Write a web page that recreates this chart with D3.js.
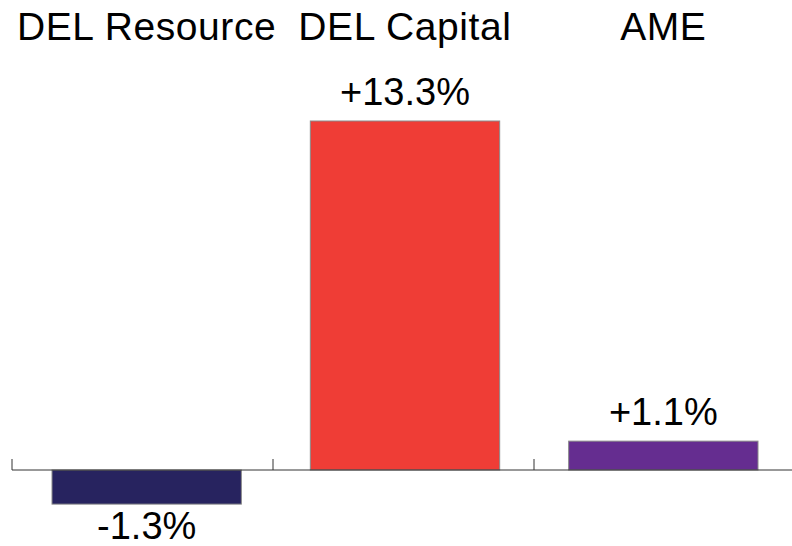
<!DOCTYPE html>
<html>
<head>
<meta charset="utf-8">
<script src="https://cdn.jsdelivr.net/npm/d3@7"></script>
<style>
html,body{margin:0;padding:0;background:#fff;}
svg{display:block;}
text{font-family:"Liberation Sans",Arial,Helvetica,sans-serif;fill:#000;}
</style>
</head>
<body>
<svg id="chart" width="792" height="546"></svg>
<script>
const categories = ["DEL Resource", "DEL Capital", "AME"];
const values = [-1.3, 13.3, 1.1];
const valueLabels = ["-1.3%", "+13.3%", "+1.1%"];
const colors = ["#27235F", "#EF3D36", "#652D90"];

const svg = d3.select("#chart");
// axis bands (tick boundaries)
const xAxis = d3.scaleBand().domain(categories).range([12, 795]).paddingInner(0).paddingOuter(0);
// bar placement
const x = d3.scaleBand().domain(categories).range([52, 758]).paddingInner(0.267).paddingOuter(0);
const y = d3.scaleLinear().domain([0, 13.3]).range([470, 121]);

// category labels at top
svg.selectAll("text.cat").data(categories).join("text")
  .attr("class","cat")
  .attr("x", d => x(d) + x.bandwidth()/2)
  .attr("y", 40)
  .attr("text-anchor","middle")
  .attr("font-size", 39)
  .attr("letter-spacing", 0.6)
  .text(d => d);

// bars
svg.selectAll("rect.bar").data(values).join("rect")
  .attr("class","bar")
  .attr("x", (d,i) => x(categories[i]))
  .attr("width", x.bandwidth())
  .attr("y", d => Math.min(y(d), y(0)))
  .attr("height", d => Math.abs(y(d) - y(0)))
  .attr("fill", (d,i) => colors[i])
  .attr("stroke", "#8a8a8a")
  .attr("stroke-width", 1);

// value labels
svg.selectAll("text.val").data(values).join("text")
  .attr("class","val")
  .attr("x", (d,i) => x(categories[i]) + x.bandwidth()/2)
  .attr("y", d => d >= 0 ? y(d) - 16 : y(d) + 35)
  .attr("text-anchor","middle")
  .attr("font-size", 38)
  .text((d,i) => valueLabels[i]);

// baseline axis
const axisG = svg.append("g");
axisG.append("line")
  .attr("x1", 12).attr("x2", 792)
  .attr("y1", y(0)).attr("y2", y(0))
  .attr("stroke", "#333").attr("stroke-width", 1);
axisG.selectAll("line.tick").data(categories).join("line")
  .attr("class","tick")
  .attr("x1", d => xAxis(d)).attr("x2", d => xAxis(d))
  .attr("y1", y(0)).attr("y2", y(0) - 11)
  .attr("stroke", "#333").attr("stroke-width", 1);
</script>
</body>
</html>
